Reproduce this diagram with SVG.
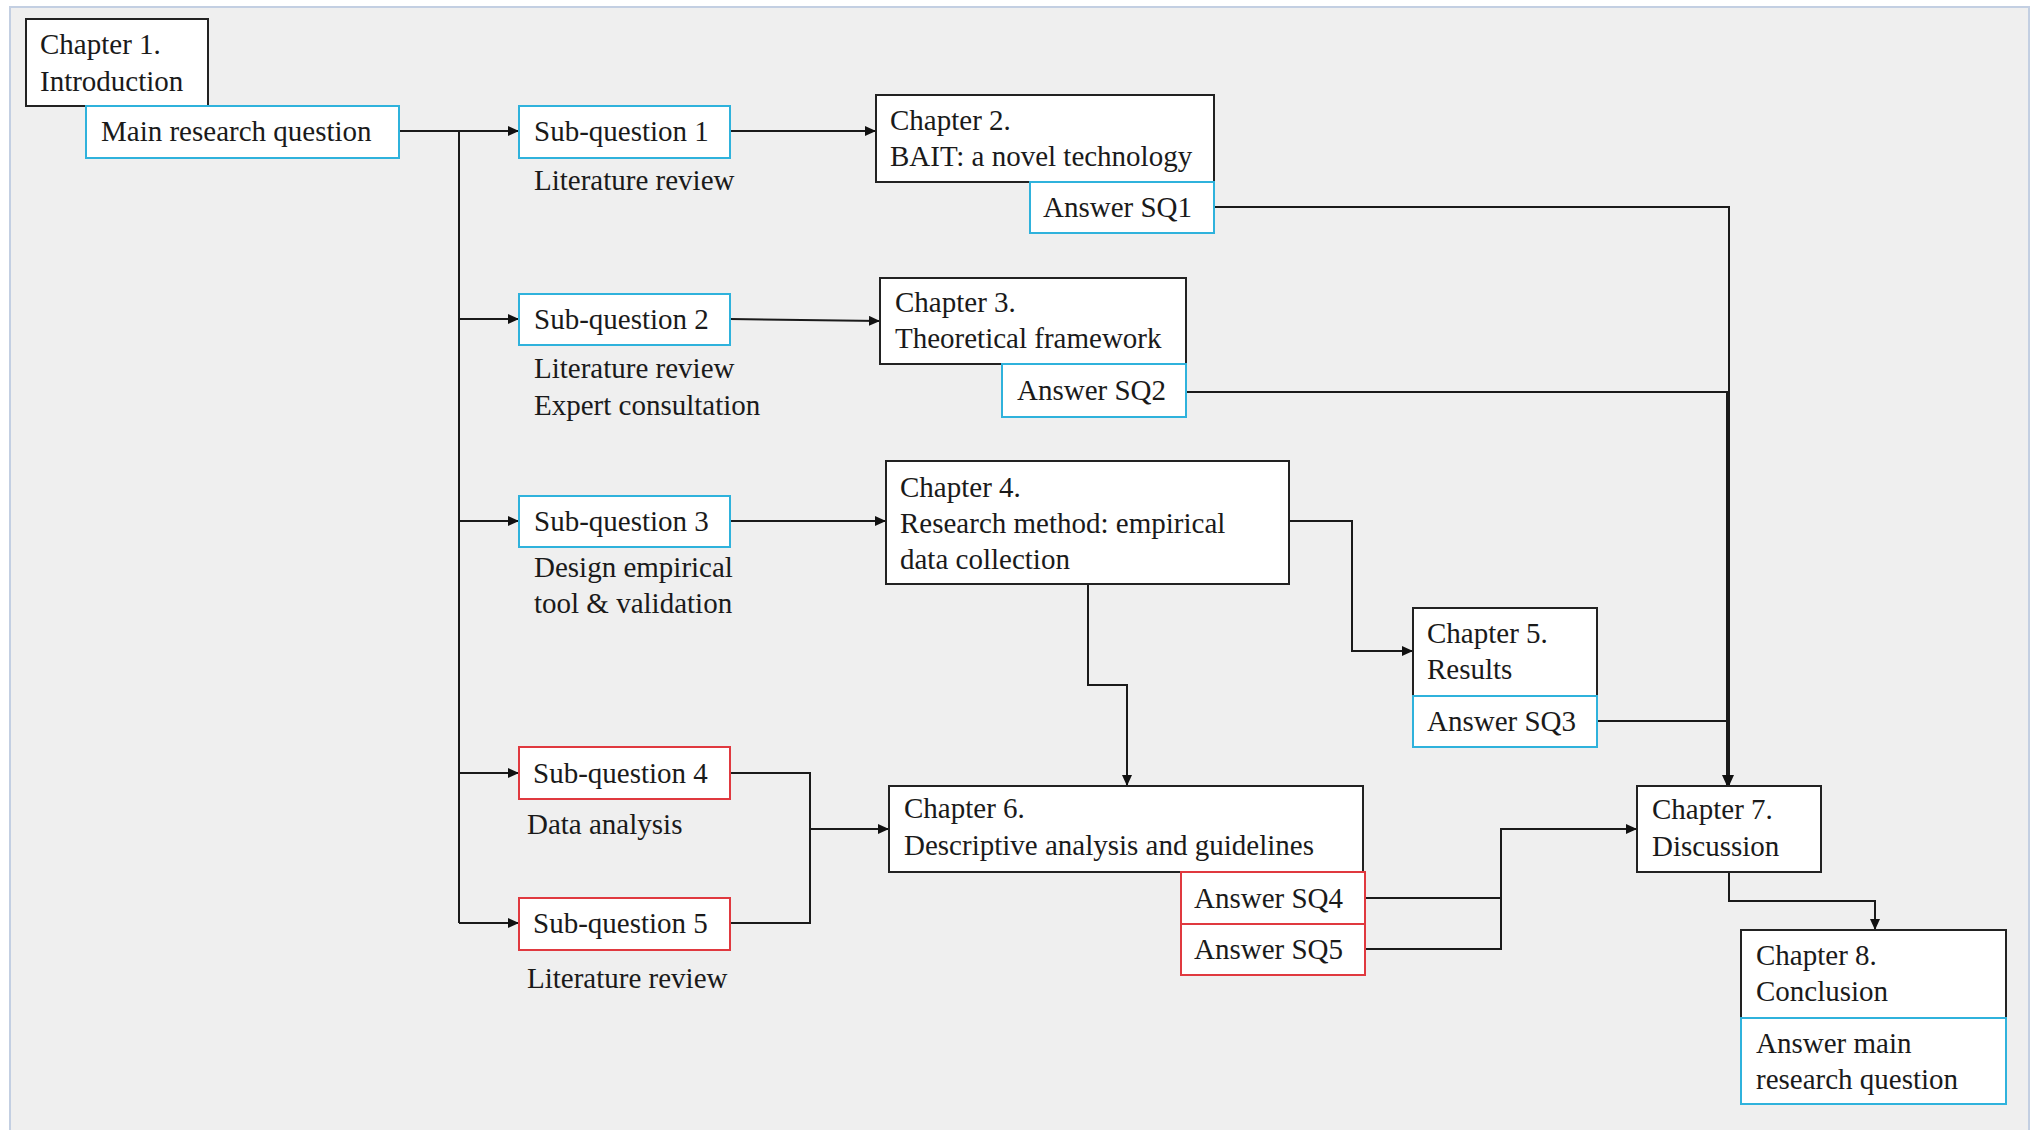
<svg xmlns="http://www.w3.org/2000/svg" width="2036" height="1130" viewBox="0 0 2036 1130">
<defs>
<style>
.t{font-family:"Liberation Serif","Times New Roman",serif;font-size:29px;fill:#1a1a1a;}
.bk{fill:#ffffff;stroke:#222222;stroke-width:2;}
.bl{fill:#ffffff;stroke:#2fb2dc;stroke-width:2;}
.rd{fill:#ffffff;stroke:#e0393f;stroke-width:2;}
.c{fill:none;stroke:#1a1a1a;stroke-width:2;}
.ca{fill:none;stroke:#1a1a1a;stroke-width:2;marker-end:url(#ah);}
</style>
<marker id="ah" markerUnits="userSpaceOnUse" markerWidth="12" markerHeight="10" refX="11" refY="5" orient="auto">
<path d="M0,0 L11,5 L0,10 z" fill="#111111"/>
</marker>
</defs>
<rect x="0" y="0" width="2036" height="1130" fill="#ffffff"/>
<rect x="10" y="7" width="2019" height="1140" fill="#efefef" stroke="#c3cfe2" stroke-width="2"/>

<g id="connectors">
<path class="c" d="M399,131 H459 V923"/>
<path class="ca" d="M459,131 H519"/>
<path class="ca" d="M459,319 H519"/>
<path class="ca" d="M459,521 H519"/>
<path class="ca" d="M459,773 H519"/>
<path class="ca" d="M459,923 H519"/>
<path class="ca" d="M730,131 H876"/>
<path class="ca" d="M730,319 L880,321"/>
<path class="ca" d="M730,521 H886"/>
<path class="ca" d="M1289,521 H1352 V651 H1413"/>
<path class="ca" d="M1088,584 V685 H1127 V786"/>
<path class="c" d="M730,773 H810 V923 H730"/>
<path class="ca" d="M810,829 H889"/>
<path class="ca" d="M1214,207 H1729 V786"/>
<path class="ca" d="M1186,392 H1727 V786"/>
<path class="c" d="M1597,721 H1729"/>
<path class="ca" d="M1365,898 H1501 V829 H1637"/>
<path class="c" d="M1365,949 H1501 V898"/>
<path class="ca" d="M1729,872 V901 H1875 V930"/>
</g>

<g id="ch1">
<rect class="bk" x="26" y="19" width="182" height="87"/>
<text class="t" x="40" y="54">Chapter 1.</text>
<text class="t" x="40" y="91">Introduction</text>
</g>
<g id="mrq">
<rect class="bl" x="86" y="106" width="313" height="52"/>
<text class="t" x="101" y="141">Main research question</text>
</g>

<g id="sq1">
<rect class="bl" x="519" y="106" width="211" height="52"/>
<text class="t" x="534" y="141">Sub-question 1</text>
<text class="t" x="534" y="190">Literature review</text>
</g>
<g id="sq2">
<rect class="bl" x="519" y="294" width="211" height="51"/>
<text class="t" x="534" y="329">Sub-question 2</text>
<text class="t" x="534" y="378">Literature review</text>
<text class="t" x="534" y="415">Expert consultation</text>
</g>
<g id="sq3">
<rect class="bl" x="519" y="496" width="211" height="51"/>
<text class="t" x="534" y="531">Sub-question 3</text>
<text class="t" x="534" y="577">Design empirical</text>
<text class="t" x="534" y="613">tool &amp; validation</text>
</g>
<g id="sq4">
<rect class="rd" x="519" y="747" width="211" height="52"/>
<text class="t" x="533" y="783">Sub-question 4</text>
<text class="t" x="527" y="834">Data analysis</text>
</g>
<g id="sq5">
<rect class="rd" x="519" y="898" width="211" height="52"/>
<text class="t" x="533" y="933">Sub-question 5</text>
<text class="t" x="527" y="988">Literature review</text>
</g>

<g id="ch2">
<rect class="bk" x="876" y="95" width="338" height="87"/>
<text class="t" x="890" y="130">Chapter 2.</text>
<text class="t" x="890" y="166">BAIT: a novel technology</text>
</g>
<g id="asq1">
<rect class="bl" x="1030" y="182" width="184" height="51"/>
<text class="t" x="1043" y="217">Answer SQ1</text>
</g>

<g id="ch3">
<rect class="bk" x="880" y="278" width="306" height="86"/>
<text class="t" x="895" y="312">Chapter 3.</text>
<text class="t" x="895" y="348">Theoretical framework</text>
</g>
<g id="asq2">
<rect class="bl" x="1002" y="364" width="184" height="53"/>
<text class="t" x="1017" y="400">Answer SQ2</text>
</g>

<g id="ch4">
<rect class="bk" x="886" y="461" width="403" height="123"/>
<text class="t" x="900" y="497">Chapter 4.</text>
<text class="t" x="900" y="533">Research method: empirical</text>
<text class="t" x="900" y="569">data collection</text>
</g>

<g id="ch5">
<rect class="bk" x="1413" y="608" width="184" height="88"/>
<text class="t" x="1427" y="643">Chapter 5.</text>
<text class="t" x="1427" y="679">Results</text>
</g>
<g id="asq3">
<rect class="bl" x="1413" y="696" width="184" height="51"/>
<text class="t" x="1427" y="731">Answer SQ3</text>
</g>

<g id="ch6">
<rect class="bk" x="889" y="786" width="474" height="86"/>
<text class="t" x="904" y="818">Chapter 6.</text>
<text class="t" x="904" y="855">Descriptive analysis and guidelines</text>
</g>
<g id="asq4">
<rect class="rd" x="1181" y="872" width="184" height="52"/>
<text class="t" x="1194" y="908">Answer SQ4</text>
</g>
<g id="asq5">
<rect class="rd" x="1181" y="924" width="184" height="51"/>
<text class="t" x="1194" y="959">Answer SQ5</text>
</g>

<g id="ch7">
<rect class="bk" x="1637" y="786" width="184" height="86"/>
<text class="t" x="1652" y="819">Chapter 7.</text>
<text class="t" x="1652" y="856">Discussion</text>
</g>

<g id="ch8">
<rect class="bk" x="1741" y="930" width="265" height="88"/>
<text class="t" x="1756" y="965">Chapter 8.</text>
<text class="t" x="1756" y="1001">Conclusion</text>
</g>
<g id="amrq">
<rect class="bl" x="1741" y="1018" width="265" height="86"/>
<text class="t" x="1756" y="1053">Answer main</text>
<text class="t" x="1756" y="1089">research question</text>
</g>
</svg>
